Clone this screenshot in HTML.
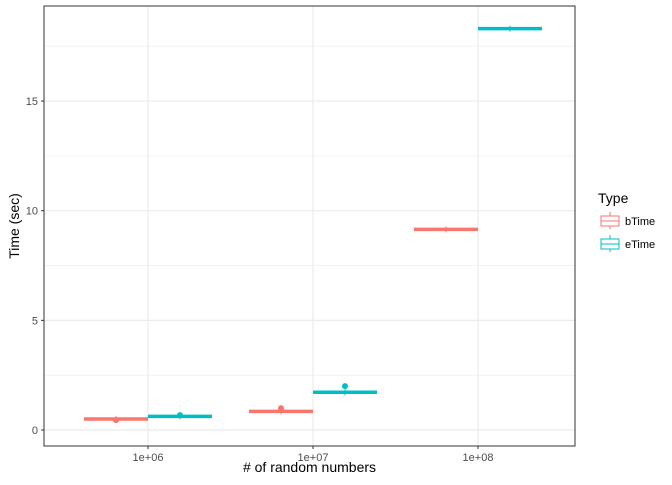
<!DOCTYPE html>
<html><head><meta charset="utf-8"><style>
body{margin:0;background:#fff;font-family:"Liberation Sans",sans-serif}
</style></head><body>
<svg id="c" width="672" height="480" xmlns="http://www.w3.org/2000/svg"></svg>
<script>
const groups=[1e6,1e7,1e8];
const types=["bTime","eTime"];
const colors=["#F8766D","#00BFC4"];
const bMedian=[0.50,0.85,9.15];
const eMedian=[0.62,1.72,18.3];
const bOutlier=[0.45,1.0,null];
const eOutlier=[0.68,2.0,null];
const yTicks=[0,5,10,15];
const yMinor=[2.5,7.5,12.5,17.5];
const xLabels=["1e+06","1e+07","1e+08"];
const NS="http://www.w3.org/2000/svg";
const svg=document.getElementById('c');
const L=44,R=575,T=6,B=446;
const y=v=>430-v*21.93;
const x=v=>148+(Math.log10(v)-6)*165;
function mk(t,a,p){const e=document.createElementNS(NS,t);for(const k in a)e.setAttribute(k,a[k]);(p||svg).appendChild(e);return e;}
let e;
e=mk('rect',{x:L,y:T,width:R-L,height:B-T,fill:'#fff'});


yMinor.forEach(v=>{e=mk('line',{x1:L,x2:R,y1:y(v),y2:y(v),stroke:'#EBEBEB','stroke-width':0.6});

});
yTicks.forEach(v=>{e=mk('line',{x1:L,x2:R,y1:y(v),y2:y(v),stroke:'#EBEBEB','stroke-width':1.2});


e=mk('line',{x1:L-3,x2:L,y1:y(v),y2:y(v),stroke:'#333','stroke-width':1});


e=mk('text',{x:L-6,y:y(v)+4,'text-anchor':'end','font-size':11,fill:'#4D4D4D'});e.textContent=v;

});
groups.forEach((g,i)=>{const gx=x(g);
e=mk('line',{x1:gx,x2:gx,y1:T,y2:B,stroke:'#EBEBEB','stroke-width':1.2});


e=mk('line',{x1:gx,x2:gx,y1:B,y2:B+3,stroke:'#333','stroke-width':1});


e=mk('text',{x:gx,y:B+15,'text-anchor':'middle','font-size':11,fill:'#4D4D4D'});e.textContent=xLabels[i];

});
const meds=[bMedian,eMedian],outs=[bOutlier,eOutlier];
groups.forEach((g,i)=>{const gx=x(g);
[0,1].forEach(t=>{const x0=gx-64+t*64;
e=mk('line',{x1:x0,x2:x0+64,y1:y(meds[t][i]),y2:y(meds[t][i]),stroke:colors[t],'stroke-width':3.5});


e=mk('line',{x1:x0+32,x2:x0+32,y1:y(meds[t][i])-3,y2:y(meds[t][i])+3,stroke:colors[t],'stroke-width':1});


if(outs[t][i]!=null){e=mk('circle',{cx:x0+32,cy:y(outs[t][i]),r:3,fill:colors[t]});

}
});});
e=mk('rect',{x:L,y:T,width:R-L,height:B-T,fill:'none',stroke:'#333','stroke-width':1});


e=mk('text',{x:(L+R)/2,y:472,'text-anchor':'middle','font-size':14,fill:'#000'});e.textContent='# of random numbers';


e=mk('text',{x:0,y:0,'text-anchor':'middle','font-size':14,fill:'#000',transform:`translate(19,${(T+B)/2}) rotate(-90)`});e.textContent='Time (sec)';


e=mk('text',{x:598,y:203,'font-size':14,fill:'#000'});e.textContent='Type';


types.forEach((t,k)=>{const ky=212+k*23;
const gEl=mk('g',{});


mk('line',{x1:610,x2:610,y1:ky,y2:ky+17,stroke:colors[k],'stroke-width':1},gEl);
mk('rect',{x:601,y:ky+4,width:18,height:10,fill:'#fff',stroke:colors[k],'stroke-width':1},gEl);
mk('line',{x1:601,x2:619,y1:ky+9,y2:ky+9,stroke:colors[k],'stroke-width':1},gEl);
const tx=mk('text',{x:625,y:ky+13,'font-size':11,fill:'#000'},gEl);tx.textContent=t;});
</script>
</body></html>
